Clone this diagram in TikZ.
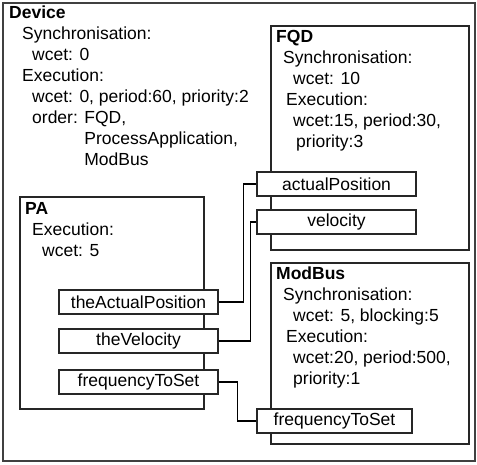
\documentclass[tikz,border=0pt]{standalone}
\usepackage{fontspec}
\setmainfont{Liberation Sans}
\begin{document}
\begin{tikzpicture}[x=1pt,y=-1pt,
  frame/.style={draw=black!85, line width=1.3pt},
  outerframe/.style={draw=black!75, line width=2pt},
  port/.style={draw=black!85, line width=1.3pt, fill=white, minimum height=24pt,
    inner sep=0pt, font=\fontsize{17.5}{21}\selectfont},
  blocktext/.style={anchor=north west, align=left, inner sep=0pt,
    font=\fontsize{17.5}{21}\selectfont},
  wire/.style={draw=black, line width=1.3pt}
]
\useasboundingbox (0,0) rectangle (477,464);

% component frames
\draw[outerframe] (3,3) rectangle (475,461);
\draw[frame] (271,26) rectangle (469,250);
\draw[frame] (271,263) rectangle (469,444);
\draw[frame] (20,197) rectangle (204,409);

% component descriptions
\node[blocktext] (devtext) at (9,5.8) {\textbf{Device}\\
  \hspace*{13pt}Synchronisation:\\
  \hspace*{23pt}wcet: 0\\
  \hspace*{13pt}Execution:\\
  \hspace*{23pt}wcet: 0, period:60, priority:2\\
  \hspace*{23pt}order: FQD,\\
  \hspace*{23pt}\phantom{order: }ProcessApplication,\\
  \hspace*{23pt}\phantom{order: }ModBus};

\node[blocktext] (fqdtext) at (276,29.8) {\textbf{FQD}\\
  \hspace*{7pt}Synchronisation:\\
  \hspace*{17pt}wcet: 10\\
  \hspace*{10pt}Execution:\\
  \hspace*{17pt}wcet:15, period:30,\\
  \hspace*{20pt}priority:3};

\node[blocktext] (mbtext) at (276,266.8) {\textbf{ModBus}\\
  \hspace*{7pt}Synchronisation:\\
  \hspace*{17pt}wcet: 5, blocking:5\\
  \hspace*{10pt}Execution:\\
  \hspace*{17pt}wcet:20, period:500,\\
  \hspace*{17pt}priority:1};

\node[blocktext] (patext) at (25,201.8) {\textbf{PA}\\
  \hspace*{7pt}Execution:\\
  \hspace*{17pt}wcet: 5};

% ports
\node[port, minimum width=159pt] (ap)  at (336.5,184) {actualPosition};
\node[port, minimum width=159pt] (vel) at (336.5,222) {velocity};
\node[port, minimum width=159pt] (tap) at (138.5,302) {theActualPosition};
\node[port, minimum width=159pt] (tv)  at (138.5,341) {theVelocity};
\node[port, minimum width=159pt] (pf)  at (138.5,382) {frequencyToSet};
\node[port, minimum width=155pt] (mf)  at (334.5,421) {frequencyToSet};

% port connections
\draw[wire] (tap.east) -- ++(25,0) |- (ap.west);
\draw[wire] (tv.east) -- ++(32,0) |- (vel.west);
\draw[wire] (pf.east) -- ++(19,0) |- (mf.west);
\end{tikzpicture}
\end{document}
